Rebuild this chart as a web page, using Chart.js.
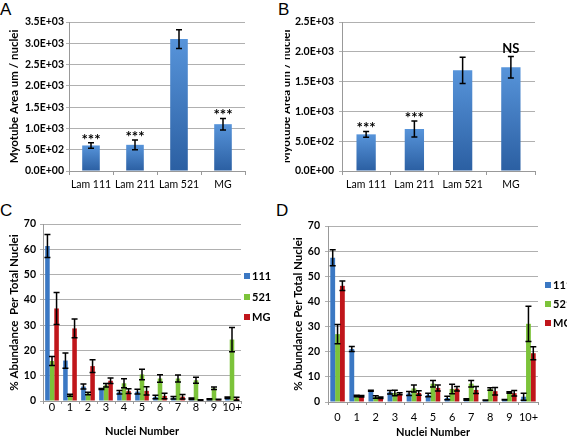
<!DOCTYPE html>
<html>
<head>
<meta charset="utf-8">
<script src="https://cdn.jsdelivr.net/npm/chart.js@4/dist/chart.umd.min.js"></script>
<style>
  body { margin: 0; width: 567px; height: 436px; overflow: hidden; position: relative; background: #fff; }
  .panel { position: absolute; overflow: hidden; }
  .panel canvas { position: absolute; top: 0; }
  .letter { position: absolute; font-family: "Liberation Sans", Arial, sans-serif; font-size: 17px; color: #000; line-height: 1; }
  .legend { position: absolute; font-family: Lato, sans-serif; font-weight: bold; font-size: 11px; color: #000; }
  .legend div { position: absolute; white-space: nowrap; line-height: 12px; }
  .legend span { display: inline-block; width: 6px; height: 6px; margin-right: 2px; vertical-align: 1px; }
</style>
</head>
<body>
<div class="letter" style="left:0px; top:1px">A</div>
<div class="letter" style="left:278px; top:1px">B</div>
<div class="letter" style="left:0px; top:202px">C</div>
<div class="letter" style="left:276px; top:202px">D</div>

<div class="panel" style="left:0; top:0; width:283px; height:200px"><canvas id="chartA" width="283" height="200" style="left:0"></canvas></div>
<div class="panel" style="left:285px; top:0; width:282px; height:200px"><canvas id="chartB" width="288" height="200" style="left:-6px"></canvas></div>
<div class="panel" style="left:0; top:200px; width:285px; height:240px"><canvas id="chartC" width="285" height="240" style="left:0"></canvas></div>
<div class="panel" style="left:285px; top:200px; width:282px; height:240px"><canvas id="chartD" width="282" height="240" style="left:0"></canvas></div>

<div class="legend" id="legendC"></div>
<div class="legend" id="legendD"></div>

<script>
// panels A and B: myotube area per nucleus
const laminins = ["Lam 111", "Lam 211", "Lam 521", "MG"];
const areaA = [600, 615, 3100, 1100];
const areaA_err = [65, 115, 220, 135];
const sigA = ["***", "***", "", "***"];
const areaB = [615, 705, 1690, 1740];
const areaB_err = [48, 135, 220, 180];
const sigB = ["***", "***", "", "NS"];

// panels C and D: % abundance by number of nuclei
const nucleiNumbers = ["0", "1", "2", "3", "4", "5", "6", "7", "8", "9", "10+"];
const seriesNames = ["111", "521", "MG"];
const seriesColors = ["#3b78c3", "#7cc33a", "#c0161b"];

const c111 = [61.3, 16.0, 5.7, 4.7, 3.5, 3.7, 1.6, 1.3, 0.9, 0.7, 1.3];
const c111_err = [4.5, 3.0, 1.0, 0.2, 0.7, 0.9, 0.7, 0.5, 0.3, 0.2, 0.3];
const c521 = [15.8, 2.3, 3.0, 6.2, 7.0, 10.5, 8.9, 8.9, 8.2, 5.0, 24.3];
const c521_err = [1.8, 0.4, 0.5, 0.7, 1.8, 2.1, 1.5, 1.4, 1.2, 0.5, 4.8];
const cMG = [36.6, 28.7, 13.8, 8.0, 3.9, 4.0, 2.0, 1.7, 0.4, 0.6, 0.9];
const cMG_err = [6.3, 3.7, 2.5, 1.1, 0.9, 1.6, 1.1, 0.9, 0.1, 0.1, 0.6];

const d111 = [57.4, 21.1, 4.5, 3.9, 3.4, 2.8, 1.6, 1.0, 0.7, 0.9, 2.1];
const d111_err = [3.2, 1.0, 0.2, 0.7, 0.8, 0.7, 0.7, 0.3, 0.1, 0.1, 1.4];
const d521 = [27.0, 2.4, 2.0, 3.6, 5.4, 7.3, 5.2, 7.3, 5.2, 3.8, 31.1];
const d521_err = [3.8, 0.3, 0.5, 1.1, 1.4, 1.3, 1.9, 1.3, 0.5, 0.3, 7.0];
const dMG = [46.2, 2.3, 1.7, 3.3, 3.6, 5.6, 5.3, 4.8, 4.3, 3.5, 19.4];
const dMG_err = [1.9, 0.3, 0.3, 0.4, 0.9, 1.2, 0.9, 1.4, 1.5, 1.1, 2.6];

const FONT = "Lato, 'Open Sans', sans-serif";
const GRID = "#b0b0b0";
const AXIS = "#999999";

// draws error bars + significance marks on top of the bars
const errorBars = {
  id: "errorBars",
  afterDatasetsDraw(chart) {
    const ctx = chart.ctx;
    const yScale = chart.scales.y;
    ctx.save();
    chart.data.datasets.forEach((ds, i) => {
      if (!ds.errors) return;
      const meta = chart.getDatasetMeta(i);
      meta.data.forEach((bar, j) => {
        const v = ds.data[j];
        const e = ds.errors[j];
        const top = yScale.getPixelForValue(v + e);
        const bot = yScale.getPixelForValue(Math.max(v - e, 0));
        const x = bar.x;
        ctx.strokeStyle = "#000";
        ctx.lineWidth = 1.5;
        ctx.beginPath();
        ctx.moveTo(x, top);
        ctx.lineTo(x, bot);
        ctx.moveTo(x - 3, top);
        ctx.lineTo(x + 3, top);
        ctx.moveTo(x - 3, bot);
        ctx.lineTo(x + 3, bot);
        ctx.stroke();

        if (ds.marks && ds.marks[j]) {
          const txt = ds.marks[j];
          const stars = txt.indexOf("*") >= 0;
          ctx.fillStyle = "#000";
          ctx.textAlign = "center";
          ctx.textBaseline = "alphabetic";
          ctx.font = "bold " + (stars ? 15 : 13) + "px " + FONT;
          ctx.fillText(txt, x, stars ? top + 2 : top - 4);
        }
      });
    });
    ctx.restore();
  },
};

// per-bar vertical gradient like the excel bars
function blueGradient(context) {
  const chart = context.chart;
  const y = chart.scales.y;
  if (!chart.chartArea || !y || context.raw === undefined) return "#3a72bb";
  const top = y.getPixelForValue(context.raw);
  const bottom = y.getPixelForValue(0);
  const g = chart.ctx.createLinearGradient(0, top, 0, bottom);
  g.addColorStop(0, "#5794da");
  g.addColorStop(1, "#2b5fa2");
  return g;
}

function sci(value) {
  return Number(value).toExponential(1).replace(/e([+-])(\d)$/, "E$10$2");
}

function makeOptions(cfg) {
  return {
    responsive: false,
    animation: false,
    layout: { padding: cfg.padding },
    plugins: { legend: { display: false }, tooltip: { enabled: false } },
    scales: {
      x: {
        grid: { drawOnChartArea: false, drawTicks: true, tickLength: cfg.xTick, color: AXIS, offset: true },
        border: { color: AXIS },
        ticks: { color: "#000", font: { family: FONT, size: cfg.xFont, weight: cfg.xWeight }, padding: cfg.xPad, maxRotation: 0, autoSkip: false },
        title: cfg.xTitle
          ? { display: true, text: cfg.xTitle, color: "#000", font: { family: FONT, size: 11, weight: "bold" }, padding: { top: 0, bottom: cfg.xTitlePad } }
          : { display: false },
        afterFit: (s) => { s.height = cfg.xHeight; },
      },
      y: {
        min: 0,
        max: cfg.yMax,
        grid: { color: GRID, tickLength: 3, lineWidth: 1 },
        border: { color: AXIS },
        ticks: { stepSize: cfg.yStep, callback: cfg.yFormat, color: "#000", font: { family: FONT, size: 10.5, weight: "bold" }, padding: cfg.yPad },
        title: { display: true, text: cfg.yTitle, color: "#000", font: { family: FONT, size: 11.5, weight: "bold" }, padding: 0 },
        afterFit: (s) => { s.width = cfg.yWidth; },
      },
    },
  };
}

function areaChart(id, values, errors, marks, yMax, cfg) {
  new Chart(document.getElementById(id), {
    type: "bar",
    data: {
      labels: laminins,
      datasets: [{
        data: values,
        errors: errors,
        marks: marks,
        backgroundColor: blueGradient,
        categoryPercentage: 1,
        barPercentage: 0.4,
      }],
    },
    options: makeOptions(Object.assign({
      yMax: yMax, yStep: 500, yFormat: sci, yTitle: "Myotube Area um / nuclei",
      xTick: 4, xFont: 10.5, xWeight: "normal", xPad: 3, xHeight: 29,
    }, cfg)),
    plugins: [errorBars],
  });
}

function abundanceChart(id, series, errs, yTitle, cfg) {
  new Chart(document.getElementById(id), {
    type: "bar",
    data: {
      labels: nucleiNumbers,
      datasets: series.map((s, i) => ({
        label: seriesNames[i],
        data: s,
        errors: errs[i],
        backgroundColor: seriesColors[i],
        categoryPercentage: 0.76,
        barPercentage: 1,
      })),
    },
    options: makeOptions(Object.assign({
      yMax: 70, yStep: 10, yFormat: (v) => v, yTitle: yTitle,
      xTick: 3, xFont: 11, xWeight: "normal", xTitle: "Nuclei Number",
    }, cfg)),
    plugins: [errorBars],
  });
}

function buildLegend(id, left, tops) {
  const el = document.getElementById(id);
  seriesNames.forEach((name, i) => {
    const row = document.createElement("div");
    row.style.left = left + "px";
    row.style.top = tops[i] - 6 + "px";
    row.innerHTML = '<span style="background:' + seriesColors[i] + '"></span>' + name;
    el.appendChild(row);
  });
}

document.addEventListener("DOMContentLoaded", function () {
  areaChart("chartA", areaA, areaA_err, sigA, 3500, {
    padding: { left: 7, top: 22, right: 38, bottom: 0 }, yWidth: 62, yPad: 2,
  });
  areaChart("chartB", areaB, areaB_err, sigB, 2500, {
    padding: { left: 0, top: 22, right: 32, bottom: 0 }, yWidth: 63, yPad: 5,
  });
  abundanceChart("chartC", [c111, c521, cMG], [c111_err, c521_err, cMG_err], "% Abundance  Per Total Nuclei", {
    padding: { left: 7, top: 24, right: 44, bottom: 0 }, yWidth: 36, yPad: 4,
    xPad: -3, xHeight: 39, xTitlePad: 2,
  });
  abundanceChart("chartD", [d111, d521, dMG], [d111_err, d521_err, dMG_err], "% Abundance Per Total Nuclei", {
    padding: { left: 6, top: 26, right: 29, bottom: 0 }, yWidth: 37, yPad: 5,
    xPad: 6, xHeight: 38, xTitlePad: 1,
  });
  buildLegend("legendC", 244, [276, 297, 317]);
  buildLegend("legendD", 545, [285, 304, 323]);
});
</script>
</body>
</html>
